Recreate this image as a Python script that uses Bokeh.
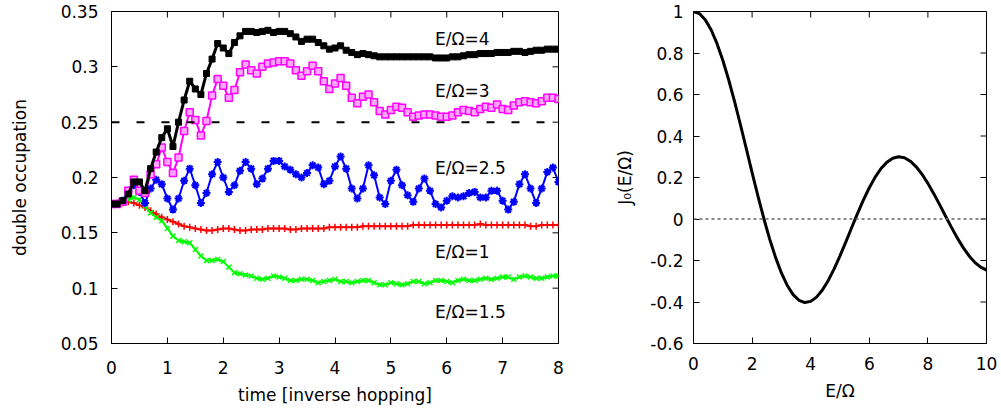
import math
from bokeh.plotting import figure
from bokeh.layouts import row
from bokeh.models import FixedTicker, PrintfTickFormatter, Span, Range1d
from bokeh.core.properties import value
from bokeh.embed import file_html
from bokeh.resources import INLINE

# ---------------- data ----------------
time = [round(0.1 * i, 1) for i in range(81)]

occ_E4 = [0.176, 0.176, 0.179, 0.185, 0.196, 0.196, 0.188, 0.208, 0.223, 0.236,
          0.244, 0.228, 0.250, 0.270, 0.287, 0.280, 0.275, 0.294, 0.307, 0.321,
          0.317, 0.312, 0.322, 0.328, 0.332, 0.332, 0.331, 0.332, 0.333, 0.331,
          0.332, 0.332, 0.330, 0.327, 0.323, 0.325, 0.325, 0.322, 0.319, 0.316,
          0.317, 0.319, 0.315, 0.313, 0.311, 0.312, 0.311, 0.310, 0.309, 0.309,
          0.309, 0.309, 0.309, 0.309, 0.309, 0.309, 0.309, 0.309, 0.308, 0.308,
          0.308, 0.309, 0.309, 0.310, 0.311, 0.311, 0.312, 0.312, 0.312, 0.313,
          0.313, 0.313, 0.314, 0.314, 0.313, 0.314, 0.315, 0.315, 0.316, 0.316,
          0.316]

occ_E3 = [0.176, 0.176, 0.178, 0.188, 0.198, 0.188, 0.186, 0.203, 0.212, 0.227,
          0.214, 0.204, 0.218, 0.242, 0.259, 0.252, 0.238, 0.251, 0.274, 0.289,
          0.283, 0.272, 0.279, 0.295, 0.302, 0.297, 0.294, 0.300, 0.303, 0.304,
          0.305, 0.305, 0.303, 0.297, 0.292, 0.296, 0.301, 0.296, 0.287, 0.280,
          0.285, 0.290, 0.283, 0.272, 0.267, 0.273, 0.275, 0.268, 0.260, 0.257,
          0.261, 0.264, 0.263, 0.259, 0.255, 0.256, 0.257, 0.257, 0.256, 0.255,
          0.255, 0.256, 0.259, 0.261, 0.260, 0.259, 0.262, 0.264, 0.263, 0.266,
          0.262, 0.261, 0.265, 0.268, 0.269, 0.268, 0.267, 0.269, 0.272, 0.272,
          0.271]

occ_E25 = [0.176, 0.176, 0.179, 0.188, 0.193, 0.187, 0.177, 0.190, 0.198, 0.194,
           0.181, 0.171, 0.181, 0.197, 0.208, 0.193, 0.177, 0.186, 0.203, 0.214,
           0.200, 0.187, 0.193, 0.206, 0.214, 0.208, 0.194, 0.199, 0.208, 0.215,
           0.215, 0.210, 0.207, 0.203, 0.200, 0.204, 0.211, 0.209, 0.194, 0.197,
           0.210, 0.219, 0.208, 0.190, 0.181, 0.190, 0.211, 0.202, 0.182, 0.176,
           0.197, 0.207, 0.193, 0.184, 0.178, 0.190, 0.199, 0.188, 0.176, 0.173,
           0.179, 0.183, 0.182, 0.183, 0.186, 0.187, 0.182, 0.182, 0.188, 0.188,
           0.179, 0.171, 0.178, 0.194, 0.203, 0.190, 0.177, 0.190, 0.205, 0.209,
           0.196]

occ_E1 = [0.176, 0.177, 0.177, 0.178, 0.177, 0.175, 0.173, 0.170, 0.167, 0.164,
          0.162, 0.160, 0.158, 0.156, 0.155, 0.154, 0.153, 0.152, 0.152, 0.153,
          0.154, 0.154, 0.153, 0.152, 0.152, 0.153, 0.153, 0.153, 0.154, 0.154,
          0.154, 0.154, 0.153, 0.153, 0.154, 0.154, 0.154, 0.154, 0.154, 0.155,
          0.155, 0.155, 0.155, 0.155, 0.155, 0.156, 0.156, 0.156, 0.156, 0.156,
          0.156, 0.156, 0.156, 0.156, 0.157, 0.157, 0.157, 0.157, 0.157, 0.157,
          0.157, 0.157, 0.157, 0.157, 0.157, 0.157, 0.158, 0.157, 0.157, 0.157,
          0.157, 0.157, 0.157, 0.157, 0.157, 0.156, 0.156, 0.157, 0.157, 0.157,
          0.157]

occ_E15 = [0.176, 0.177, 0.178, 0.180, 0.182, 0.180, 0.174, 0.168, 0.164, 0.161,
           0.154, 0.147, 0.143, 0.142, 0.141, 0.135, 0.129, 0.125, 0.125, 0.126,
           0.124, 0.119, 0.114, 0.113, 0.112, 0.111, 0.109, 0.108, 0.109, 0.111,
           0.110, 0.109, 0.107, 0.107, 0.108, 0.108, 0.107, 0.105, 0.106, 0.107,
           0.108, 0.106, 0.106, 0.105, 0.106, 0.107, 0.107, 0.105, 0.103, 0.103,
           0.105, 0.104, 0.103, 0.104, 0.106, 0.106, 0.104, 0.105, 0.107, 0.107,
           0.106, 0.105, 0.107, 0.108, 0.107, 0.107, 0.108, 0.109, 0.108, 0.109,
           0.110, 0.110, 0.108, 0.110, 0.111, 0.110, 0.109, 0.109, 0.110, 0.111,
           0.111]

series_labels = ["E/\u03a9=4", "E/\u03a9=3", "E/\u03a9=2.5", "E/\u03a9=1", "E/\u03a9=1.5"]
half_filling = 0.25

e_over_omega = [0.0, 0.2, 0.4, 0.6, 0.8, 1.0, 1.2, 1.4, 1.6, 1.8,
                2.0, 2.2, 2.4, 2.6, 2.8, 3.0, 3.2, 3.4, 3.6, 3.8,
                4.0, 4.2, 4.4, 4.6, 4.8, 5.0, 5.2, 5.4, 5.6, 5.8,
                6.0, 6.2, 6.4, 6.6, 6.8, 7.0, 7.2, 7.4, 7.6, 7.8,
                8.0, 8.2, 8.4, 8.6, 8.8, 9.0, 9.2, 9.4, 9.6, 9.8, 10.0]
bessel_j0 = [1.0000, 0.9900, 0.9604, 0.9120, 0.8463, 0.7652, 0.6711, 0.5669, 0.4554, 0.3400,
             0.2239, 0.1104, 0.0025, -0.0968, -0.1850, -0.2601, -0.3202, -0.3643, -0.3918, -0.4026,
             -0.3971, -0.3766, -0.3423, -0.2961, -0.2404, -0.1776, -0.1103, -0.0412, 0.0270, 0.0917,
             0.1506, 0.2017, 0.2433, 0.2740, 0.2931, 0.3001, 0.2951, 0.2786, 0.2516, 0.2154,
             0.1717, 0.1222, 0.0692, 0.0146, -0.0392, -0.0903, -0.1367, -0.1768, -0.2090, -0.2323, -0.2459]

x_range_left = (0, 8)
y_range_left = (0.05, 0.35)
x_range_right = (0, 10)
y_range_right = (-0.6, 1)
x_ticks_left = [0, 1, 2, 3, 4, 5, 6, 7, 8]
y_ticks_left = [0.05, 0.1, 0.15, 0.2, 0.25, 0.3, 0.35]
x_ticks_right = [0, 2, 4, 6, 8, 10]
y_ticks_right = [-0.6, -0.4, -0.2, 0, 0.2, 0.4, 0.6, 0.8, 1]

FONT = "DejaVu Sans"
FS = "17px"


def style_axis(ax, ticks, standoff, label_standoff):
    ax.ticker = FixedTicker(ticks=ticks)
    ax.formatter = PrintfTickFormatter(format="%g")
    ax.major_tick_in = 6
    ax.major_tick_out = 0
    ax.minor_tick_in = 0
    ax.minor_tick_out = 0
    ax.major_tick_line_color = "black"
    ax.axis_line_color = "black"
    ax.major_label_text_font = FONT
    ax.major_label_text_font_size = FS
    ax.major_label_text_color = "black"
    ax.major_label_standoff = standoff
    ax.axis_label_text_font = FONT
    ax.axis_label_text_font_size = FS
    ax.axis_label_text_font_style = "normal"
    ax.axis_label_text_color = "black"
    ax.axis_label_standoff = label_standoff


def mirror_ticks(p, xr, yr, xt, yt):
    # inward tick marks on the top and right frame edges
    p.ray(x=xt, y=[yr[1]] * len(xt), length=6, length_units="screen",
          angle=-math.pi / 2, line_color="black", line_width=1)
    p.ray(x=[xr[1]] * len(yt), y=yt, length=6, length_units="screen",
          angle=math.pi, line_color="black", line_width=1)


def base_figure(width, xr, yr, left, right, top, bottom):
    p = figure(width=width, height=409, x_range=Range1d(*xr), y_range=Range1d(*yr),
               output_backend="svg", toolbar_location=None,
               min_border_left=left, min_border_right=right,
               min_border_top=top, min_border_bottom=bottom)
    p.grid.visible = False
    p.outline_line_color = "black"
    p.outline_line_alpha = 1
    p.background_fill_color = "white"
    p.border_fill_color = "white"
    return p


# ---------------- left panel ----------------
p1 = base_figure(600, x_range_left, y_range_left, 111, 42, 11, 66)
style_axis(p1.xaxis[0], x_ticks_left, 17, 8)
style_axis(p1.yaxis[0], y_ticks_left, 13, 28)
p1.xaxis[0].axis_label = "time [inverse hopping]"
p1.yaxis[0].axis_label = "double occupation"
mirror_ticks(p1, x_range_left, y_range_left, x_ticks_left, y_ticks_left)

p1.add_layout(Span(location=half_filling, dimension="width", line_color="black",
                   line_width=2, line_dash="8 17"))

# red: E/Omega = 1
p1.line(time, occ_E1, line_color="#ff0000", line_width=2)
p1.scatter(time, occ_E1, marker="cross", size=7, line_color="#ff0000", line_width=1.5)
# green: E/Omega = 1.5
p1.line(time, occ_E15, line_color="#00ff00", line_width=2)
p1.scatter(time, occ_E15, marker="x", size=7, line_color="#00ff00", line_width=1.5)
# blue: E/Omega = 2.5
p1.line(time, occ_E25, line_color="#0000ff", line_width=2)
p1.scatter(time, occ_E25, marker="asterisk", size=8, line_color="#0000ff", line_width=2)
# magenta: E/Omega = 3
p1.line(time, occ_E3, line_color="#ff00ff", line_width=2)
p1.scatter(time, occ_E3, marker="square", size=7, line_color="#ff00ff", line_width=1.5,
           fill_color="#ffa8ff")
# black: E/Omega = 4
p1.line(time, occ_E4, line_color="black", line_width=3)
p1.scatter(time, occ_E4, marker="square", size=6, line_color="black", fill_color="black")

p1.text(x=[5.79, 5.79, 5.79, 5.79, 5.79],
        y=[0.3256, 0.2778, 0.2083, 0.1325, 0.0783],
        text=series_labels, text_font=value(FONT), text_font_size=FS,
        text_color="black", text_align="left", text_baseline="middle")

# ---------------- right panel ----------------
p2 = base_figure(401, x_range_right, y_range_right, 93, 15, 10, 60)
style_axis(p2.xaxis[0], x_ticks_right, 13, 8)
style_axis(p2.yaxis[0], y_ticks_right, 10, 12)
p2.xaxis[0].axis_label = "E/\u03a9"
p2.yaxis[0].axis_label = "J\u2080(E/\u03a9)"
mirror_ticks(p2, x_range_right, y_range_right, x_ticks_right, y_ticks_right)

p2.add_layout(Span(location=0, dimension="width", line_color="#666666",
                   line_width=1.5, line_dash="3 3"))
p2.line(e_over_omega, bessel_j0, line_color="black", line_width=3)

layout = row(p1, p2)
open("out.html", "w").write(file_html(layout, INLINE))
